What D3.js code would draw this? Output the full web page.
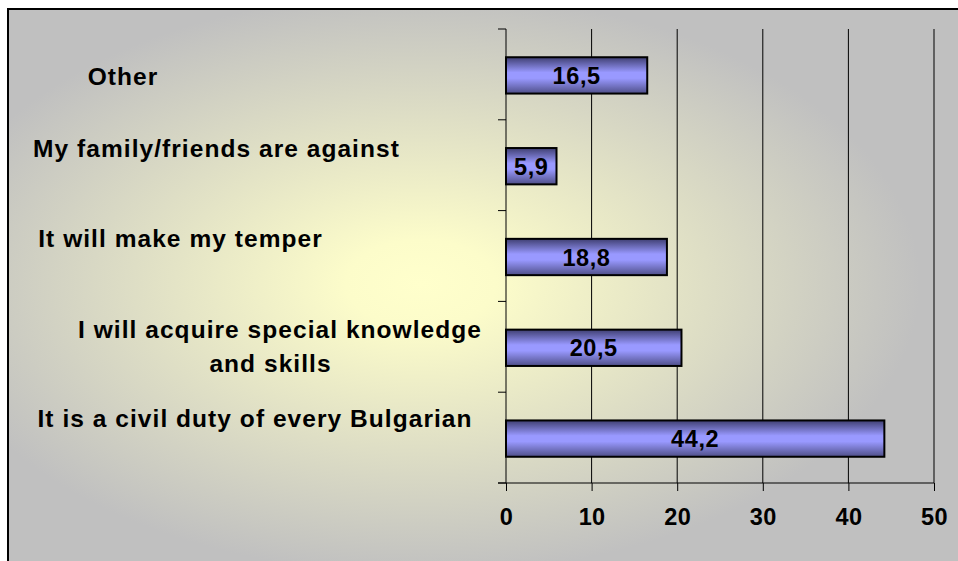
<!DOCTYPE html>
<html>
<head>
<meta charset="utf-8">
<title>Reasons</title>
<script src="https://cdn.jsdelivr.net/npm/d3@7"></script>
<style>
  body { margin: 0; background: #fff; }
  text { font-family: "Liberation Sans", Arial, sans-serif; font-weight: bold; fill: #000; }
  .cat { font-size: 24.5px; letter-spacing: 1.05px; }
  .val { font-size: 23.5px; letter-spacing: 0.6px; }
  .tick-label { font-size: 23.5px; letter-spacing: 0.4px; }
</style>
</head>
<body>
<script>
// data, top to bottom as shown
var categories = [
  "Other",
  "My family/friends are against",
  "It will make my temper",
  "I will acquire special knowledge\nand skills",
  "It is a civil duty of every Bulgarian"
];
var values = [16.5, 5.9, 18.8, 20.5, 44.2];
var valueLabels = ["16,5", "5,9", "18,8", "20,5", "44,2"];
var xTicks = [0, 10, 20, 30, 40, 50];

var width = 958, height = 561;
var plot = {left: 506, right: 934, top: 29, bottom: 483};

// label placement (Excel puts them a bit off centre)
var labelX = [[123], [216.5], [180.5], [280, 270.5], [255]];
var labelDy = [10.5, -8.5, -9.5, -8.5, -10.5];

var svg = d3.select("body").append("svg")
  .attr("width", width).attr("height", height);

var defs = svg.append("defs");
var bg = defs.append("radialGradient").attr("id", "bg")
  .attr("cx", 0.43).attr("cy", 0.49).attr("r", 0.52);
bg.append("stop").attr("offset", "0").attr("stop-color", "#ffffcc");
bg.append("stop").attr("offset", "0.15").attr("stop-color", "#fcfcca");
bg.append("stop").attr("offset", "1").attr("stop-color", "#c0c0c0");

var barGrad = defs.append("linearGradient").attr("id", "barGrad")
  .attr("x1", 0).attr("y1", 0).attr("x2", 0).attr("y2", 1);
barGrad.append("stop").attr("offset", "0").attr("stop-color", "#3f3f72");
barGrad.append("stop").attr("offset", "0.42").attr("stop-color", "#9999ff");
barGrad.append("stop").attr("offset", "0.58").attr("stop-color", "#9999ff");
barGrad.append("stop").attr("offset", "1").attr("stop-color", "#4f4f88");

// chart area with frame
svg.append("rect")
  .attr("x", 8).attr("y", 9).attr("width", 960).attr("height", 560)
  .attr("fill", "url(#bg)")
  .attr("stroke", "#000").attr("stroke-width", 2);

var x = d3.scaleLinear().domain([0, 50]).range([plot.left, plot.right]);
var y = d3.scaleBand().domain(categories).range([plot.top, plot.bottom])
  .paddingInner(0.6).paddingOuter(0.3);

// gridlines
svg.append("g").selectAll("line")
  .data(xTicks.slice(1))
  .join("line")
  .attr("x1", d => x(d)).attr("x2", d => x(d))
  .attr("y1", plot.top).attr("y2", plot.bottom)
  .attr("stroke", "#000").attr("stroke-width", 1);

// x axis
var xAxis = d3.axisBottom(x).tickValues(xTicks).tickSize(8).tickPadding(13)
  .tickSizeOuter(0);
var gx = svg.append("g")
  .attr("transform", "translate(0," + plot.bottom + ")")
  .call(xAxis);
gx.select(".domain").attr("d", "M" + (plot.left - 8) + ",0H" + plot.right);
gx.selectAll("line, path").attr("stroke", "#000");
gx.selectAll("text").attr("class", "tick-label").attr("fill", "#000")
  .attr("font-family", null).attr("font-size", null).attr("dy", "0.9em");

// y axis: ticks at category boundaries
var boundaries = d3.range(categories.length + 1).map(i => plot.top + i * (plot.bottom - plot.top) / categories.length);
var gy = svg.append("g");
gy.append("line")
  .attr("x1", plot.left).attr("x2", plot.left)
  .attr("y1", plot.top).attr("y2", plot.bottom)
  .attr("stroke", "#000");
gy.selectAll("line.t").data(boundaries).join("line").attr("class", "t")
  .attr("x1", plot.left - 8).attr("x2", plot.left)
  .attr("y1", d => d).attr("y2", d => d)
  .attr("stroke", "#000");

// bars
svg.append("g").selectAll("rect")
  .data(values)
  .join("rect")
  .attr("x", x(0))
  .attr("y", (d, i) => y(categories[i]) + 1)
  .attr("width", d => x(d) - x(0))
  .attr("height", y.bandwidth())
  .attr("fill", "url(#barGrad)")
  .attr("stroke", "#000").attr("stroke-width", 2);

// value labels
svg.append("g").selectAll("text")
  .data(values)
  .join("text")
  .attr("class", "val")
  .attr("text-anchor", "middle")
  .attr("x", d => (x(0) + x(d)) / 2)
  .attr("y", (d, i) => y(categories[i]) + 1 + y.bandwidth() / 2 + 8.5)
  .text((d, i) => valueLabels[i]);

// category labels
var cl = svg.append("g").selectAll("text")
  .data(categories)
  .join("text")
  .attr("class", "cat")
  .attr("text-anchor", "middle");
cl.each(function(d, i) {
  var lines = d.split("\n");
  var cy = y(d) + y.bandwidth() / 2 + labelDy[i];
  d3.select(this).selectAll("tspan")
    .data(lines)
    .join("tspan")
    .attr("x", (t, j) => labelX[i][j])
    .attr("y", (t, j) => cy + j * 34)
    .text(t => t);
});
</script>
</body>
</html>
